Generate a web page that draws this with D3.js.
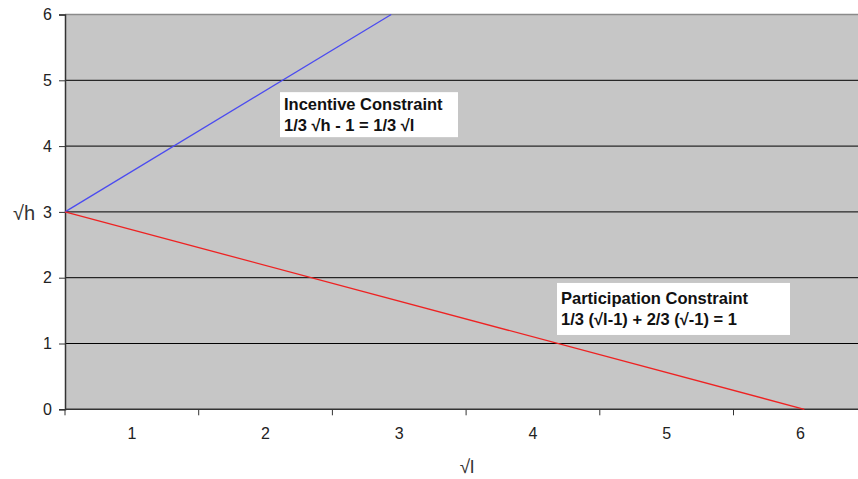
<!DOCTYPE html>
<html><head><meta charset="utf-8">
<script src="https://cdn.jsdelivr.net/npm/d3@7"></script>
<style>body{margin:0;background:#fff}svg{display:block;font-family:"Liberation Sans",Arial,sans-serif}</style>
</head><body>
<svg id="c" width="858" height="479"></svg>
<script>
const xTickLabels = [1, 2, 3, 4, 5, 6];
const yTickLabels = [0, 1, 2, 3, 4, 5, 6];
const incentiveX = [0.5, 2.94];
const incentiveY = [3, 6];
const participationX = [0.5, 6.03];
const participationY = [3, 0];
const incentiveLabel = ["Incentive Constraint", "1/3 \u221Ah - 1 = 1/3 \u221Al"];
const participationLabel = ["Participation Constraint", "1/3 (\u221Al-1) + 2/3 (\u221A-1) = 1"];
const incentiveLabelPos = [2.108, 4.82];   // data coords of box top-left
const participationLabelPos = [4.18, 1.92];

const svg = d3.select("#c");
const L = 65, R = 858, T = 14.5, B = 409.3;
const x = d3.scaleLinear().domain([0.5, 0.5 + (R - L) / 133.7]).range([L, R]);
const y = d3.scaleLinear().domain([0, 6]).range([B, T]);

svg.append("rect").attr("x", L).attr("y", T).attr("width", R - L).attr("height", B - T).attr("fill", "#c6c6c6");
svg.append("line").attr("x1", L).attr("x2", R).attr("y1", T).attr("y2", T).attr("stroke", "#8a8a8a").attr("stroke-width", 1.5);

// gridlines
svg.append("g").selectAll("line").data(yTickLabels.filter(d => d > 0 && d < 6)).join("line")
  .attr("x1", L).attr("x2", R).attr("y1", d => y(d)).attr("y2", d => y(d))
  .attr("stroke", "#000").attr("stroke-width", 1);

// y axis
const yAxis = d3.axisLeft(y).tickValues(yTickLabels).tickSize(6).tickPadding(7).tickFormat(d3.format("d"));
const gy = svg.append("g").attr("transform", `translate(${L},0)`).call(yAxis);
gy.select(".domain").attr("stroke", "#333").attr("stroke-width", 1.5);
gy.selectAll(".tick line").attr("stroke", "#333");
gy.selectAll("text").attr("font-size", 16).attr("fill", "#222").attr("font-family", "Liberation Sans, Arial");

// x axis: tick marks between categories, labels at integers
const xTickMarks = d3.range(0.5, 6, 1);
const gx = svg.append("g").attr("transform", `translate(0,${B})`);
gx.append("line").attr("x1", L).attr("x2", R).attr("stroke", "#333").attr("stroke-width", 1.5);
gx.selectAll(".tm").data(xTickMarks).join("line").attr("class", "tm")
  .attr("x1", d => x(d)).attr("x2", d => x(d)).attr("y1", 0).attr("y2", 6).attr("stroke", "#333");
gx.selectAll(".tl").data(xTickLabels).join("text").attr("class", "tl")
  .attr("x", d => x(d)).attr("y", 30).attr("text-anchor", "middle")
  .attr("font-size", 16).attr("fill", "#222").text(d => d);

// lines
const line = d3.line().x(d => x(d[0])).y(d => y(d[1]));
svg.append("path").datum(incentiveX.map((v, i) => [v, incentiveY[i]]))
  .attr("d", line).attr("fill", "none").attr("stroke", "#4b4bf0").attr("stroke-width", 1.3);
svg.append("path").datum(participationX.map((v, i) => [v, participationY[i]]))
  .attr("d", line).attr("fill", "none").attr("stroke", "#ee2222").attr("stroke-width", 1.3);

// annotation boxes
function label(pos, lines, w, h, dy) {
  const g = svg.append("g").attr("transform", `translate(${x(pos[0])},${y(pos[1])})`);
  g.append("rect").attr("width", w).attr("height", h).attr("fill", "#fff");
  g.selectAll("text").data(lines).join("text")
    .attr("x", 4).attr("y", (d, i) => dy + i * 21)
    .attr("font-size", 16.5).attr("font-weight", "bold").attr("fill", "#111").text(d => d);
}
label(incentiveLabelPos, incentiveLabel, 178, 45, 18);
label(participationLabelPos, participationLabel, 233, 52, 21);

// axis titles
svg.append("text").attr("x", 24).attr("y", 220).attr("text-anchor", "middle")
  .attr("font-size", 20).attr("fill", "#333").text("\u221Ah");
svg.append("text").attr("x", 467).attr("y", 473).attr("text-anchor", "middle")
  .attr("font-size", 19).attr("fill", "#333").text("\u221Al");
</script>
</body></html>
